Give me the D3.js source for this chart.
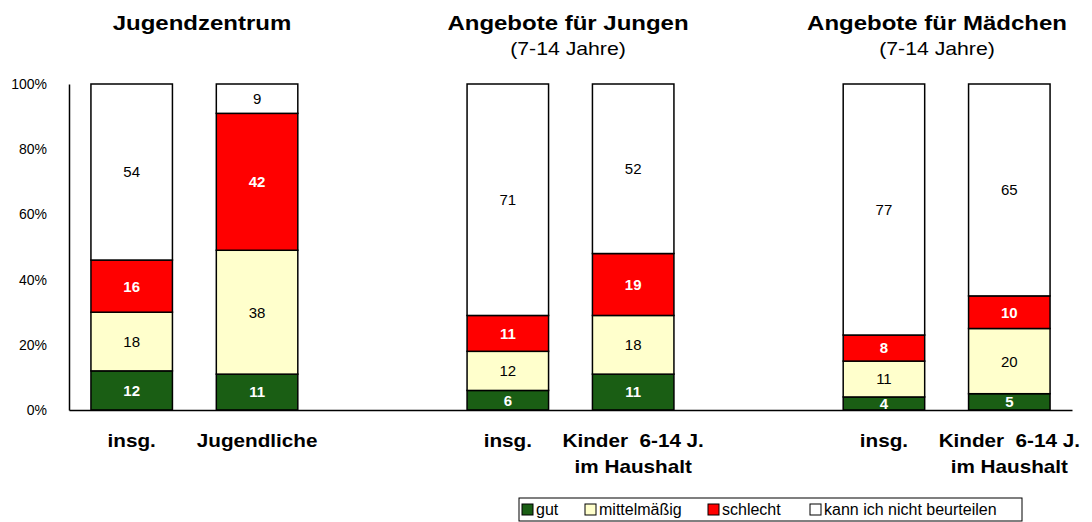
<!DOCTYPE html>
<html>
<head>
<meta charset="utf-8">
<script src="https://cdn.jsdelivr.net/npm/d3@7"></script>
<style>
  body { margin: 0; background: #fff; }
  svg text { font-family: "Liberation Sans", Arial, sans-serif; }
</style>
</head>
<body>
<div id="bdy"></div>
<script>
var width = 1092;
var height = 522;

// bars (ids), with empty slots between the groups
var bars = ["jz_insg", "jz_jug", "gap1", "jun_insg", "jun_kind", "gap2", "mae_insg", "mae_kind"];
var barLabels = [["insg."], ["Jugendliche"], [], ["insg."], ["Kinder  6-14 J.", "im Haushalt"], [], ["insg."], ["Kinder  6-14 J.", "im Haushalt"]];

// series values (percent), in bar order (gaps = null)
var gut        = [12, 11, null, 6, 11, null, 4, 5];
var mittel     = [18, 38, null, 12, 18, null, 11, 20];
var schlecht   = [16, 42, null, 11, 19, null, 8, 10];
var kannNicht  = [54, 9, null, 71, 52, null, 77, 65];

var seriesNames = ["gut", "mittelmäßig", "schlecht", "kann ich nicht beurteilen"];
var seriesColors = ["#1a5e14", "#ffffcc", "#ff0000", "#ffffff"];
var labelColors = ["#fff", "#000", "#fff", "#000"];
var labelWeights = ["bold", "normal", "bold", "normal"];

var groupTitles = ["Jugendzentrum", "Angebote für Jungen", "Angebote für Mädchen"];
var groupSubtitles = ["", "(7-14 Jahre)", "(7-14 Jahre)"];
var yTicks = [0, 20, 40, 60, 80, 100];

var margin = {top: 84, left: 69, right: 20, bottom: 112};

var svg = d3.select('#bdy').append('svg')
    .attr('width', width)
    .attr('height', height);

var xScale = d3.scaleBand()
    .domain(bars)
    .range([margin.left, 1072])
    .paddingInner(0.35)
    .paddingOuter(0.175);

var yScale = d3.scaleLinear()
    .domain([0, 100])
    .range([410, margin.top]);

// text that is a bit wider than the font draws it
function wideText(sel, x, y, sx) {
    return sel.append('text')
        .attr('transform', 'translate(' + x + ',' + y + ') scale(' + sx + ',1)')
        .attr('text-anchor', 'middle');
}

// build stacked table
var table = bars.map(function(b, i) {
    return {id: b, gut: gut[i], mittel: mittel[i], schlecht: schlecht[i], kann: kannNicht[i]};
}).filter(function(d) { return d.gut != null; });
var keys = ["gut", "mittel", "schlecht", "kann"];
var stacked = d3.stack().keys(keys)(table);

var layer = svg.selectAll('.layer')
    .data(stacked)
    .enter().append('g')
    .attr('class', 'layer');

layer.selectAll('rect')
    .data(function(s) { return s.map(function(p) { p.key = s.key; return p; }); })
    .enter().append('rect')
    .attr('x', function(d) { return xScale(d.data.id); })
    .attr('width', xScale.bandwidth())
    .attr('y', function(d) { return yScale(d[1]); })
    .attr('height', function(d) { return yScale(d[0]) - yScale(d[1]); })
    .attr('fill', function(d) { return seriesColors[keys.indexOf(d.key)]; })
    .attr('stroke', '#000')
    .attr('stroke-width', 1.5);

layer.selectAll('text')
    .data(function(s) { return s; })
    .enter().append('text')
    .attr('x', function(d) { return xScale(d.data.id) + xScale.bandwidth() / 2; })
    .attr('y', function(d) { return (yScale(d[0]) + yScale(d[1])) / 2; })
    .attr('dy', '0.36em')
    .attr('text-anchor', 'middle')
    .style('font-size', '15px')
    .style('font-weight', function(d) { return labelWeights[keys.indexOf(d.key)]; })
    .attr('fill', function(d) { return labelColors[keys.indexOf(d.key)]; })
    .text(function(d) { return d[1] - d[0]; });

// y axis
var yAxis = svg.append('g')
    .attr('transform', 'translate(' + margin.left + ',0)')
    .call(d3.axisLeft(yScale).tickValues(yTicks).tickSize(0).tickPadding(22)
        .tickFormat(function(d) { return d + '%'; }));
yAxis.select('.domain').attr('stroke', '#000').attr('stroke-width', 1.5);
yAxis.selectAll('text')
    .style('font-size', '14px')
    .style('font-family', '"Liberation Sans", Arial, sans-serif')
    .attr('fill', '#000');

// x axis
var xAxis = svg.append('g')
    .attr('transform', 'translate(0,410)')
    .call(d3.axisBottom(xScale).tickSize(0).tickFormat(''));
xAxis.select('.domain').attr('stroke', '#000').attr('stroke-width', 1.5);

// category labels
bars.forEach(function(b, i) {
    var cx = xScale(b) + xScale.bandwidth() / 2;
    barLabels[i].forEach(function(line, j) {
        wideText(svg, cx, 447 + j * 26, 1.15)
            .attr('xml:space', 'preserve')
            .style('font-size', '18px')
            .style('font-weight', 'bold')
            .text(line);
    });
});

// group titles
var titleX = [202, 568, 937];
groupTitles.forEach(function(t, i) {
    wideText(svg, titleX[i], 30, 1.2)
        .style('font-size', '20px')
        .style('font-weight', 'bold')
        .text(t);
    if (groupSubtitles[i]) {
        wideText(svg, titleX[i], 55, 1.18)
            .style('font-size', '18px')
            .text(groupSubtitles[i]);
    }
});

// legend
var legend = svg.append('g').attr('transform', 'translate(519,498)');
legend.append('rect')
    .attr('width', 503)
    .attr('height', 23)
    .attr('fill', '#fff')
    .attr('stroke', '#000')
    .attr('stroke-width', 1);
var legX = [3, 66, 189, 291];
var item = legend.selectAll('.leg')
    .data(seriesNames)
    .enter().append('g')
    .attr('transform', function(d, i) { return 'translate(' + legX[i] + ',0)'; });
item.append('rect')
    .attr('y', 6)
    .attr('width', 11)
    .attr('height', 11)
    .attr('fill', function(d, i) { return seriesColors[i]; })
    .attr('stroke', '#000')
    .attr('stroke-width', 1);
item.append('text')
    .attr('x', 14)
    .attr('y', 17)
    .style('font-size', '16px')
    .text(function(d) { return d; });
</script>
</body>
</html>
